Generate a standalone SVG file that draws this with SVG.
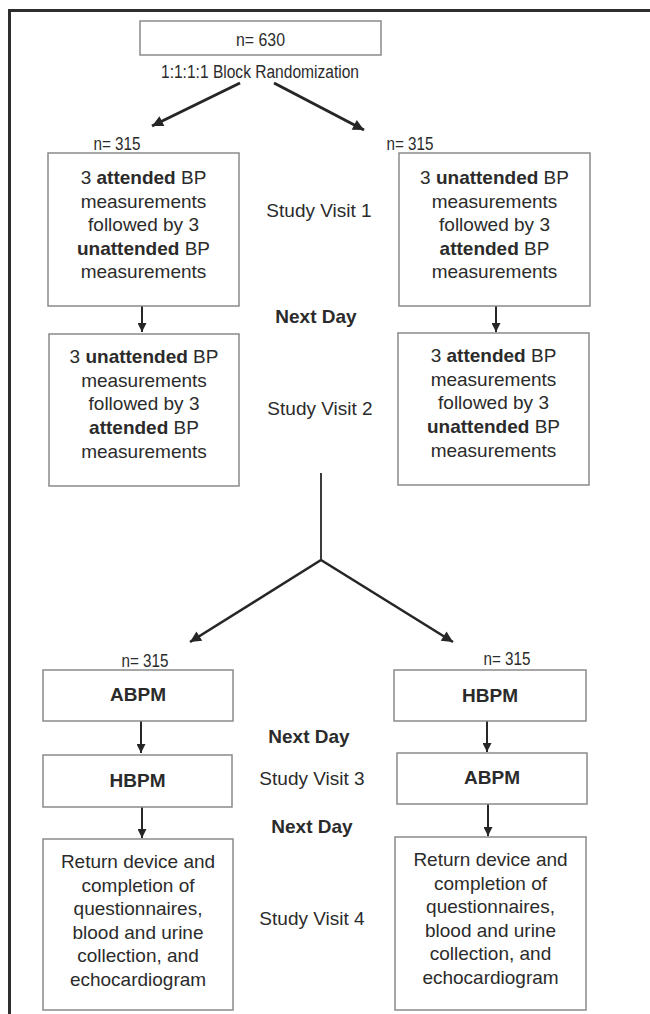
<svg xmlns="http://www.w3.org/2000/svg" width="650" height="1014" viewBox="0 0 650 1014">
<style>
text{font-family:"Liberation Sans",Arial,sans-serif;fill:#2b2b2b;text-anchor:middle}
.t{font-size:19px}
.s{font-size:18px}
.b{font-weight:bold}
.box{fill:#fff;stroke:#8a8a8a;stroke-width:1.5}
.ln{stroke:#262626;fill:none}
</style>
<defs>
<marker id="ah" markerUnits="userSpaceOnUse" viewBox="0 0 10 10" refX="10" refY="5" markerWidth="9" markerHeight="9" orient="auto"><path d="M0,0 L10,5 L0,10 z" fill="#262626"/></marker>
<marker id="ahl" markerUnits="userSpaceOnUse" viewBox="0 0 10 10" refX="10" refY="5" markerWidth="14" markerHeight="11" orient="auto"><path d="M0,0 L10,5 L0,10 z" fill="#262626"/></marker>
</defs>
<rect x="9.5" y="10.5" width="700" height="1100" fill="none" stroke="#2e2e2e" stroke-width="3"/>

<g id="connectors">
<line class="ln" x1="240" y1="83" x2="152" y2="126" stroke-width="3" marker-end="url(#ahl)"/>
<line class="ln" x1="274" y1="83" x2="364" y2="130" stroke-width="3" marker-end="url(#ahl)"/>
<line class="ln" x1="142" y1="306" x2="142" y2="332" stroke-width="2" marker-end="url(#ah)"/>
<line class="ln" x1="496" y1="306" x2="496" y2="332" stroke-width="2" marker-end="url(#ah)"/>
<line class="ln" x1="321" y1="473" x2="321" y2="560" stroke-width="1.8"/>
<line class="ln" x1="321" y1="560" x2="190" y2="642" stroke-width="2.6" marker-end="url(#ahl)"/>
<line class="ln" x1="321" y1="560" x2="453" y2="642" stroke-width="2.6" marker-end="url(#ahl)"/>
<line class="ln" x1="141" y1="721" x2="141" y2="753" stroke-width="2" marker-end="url(#ah)"/>
<line class="ln" x1="142" y1="807" x2="142" y2="838" stroke-width="2" marker-end="url(#ah)"/>
<line class="ln" x1="487" y1="721" x2="487" y2="752" stroke-width="2" marker-end="url(#ah)"/>
<line class="ln" x1="488" y1="804" x2="488" y2="836" stroke-width="2" marker-end="url(#ah)"/>
</g>

<g id="n630">
<rect class="box" x="140" y="21" width="241" height="34"/>
<text class="s" x="260.5" y="46" textLength="49" lengthAdjust="spacingAndGlyphs">n= 630</text>
</g>
<text class="s" x="260" y="78" textLength="198" lengthAdjust="spacingAndGlyphs">1:1:1:1 Block Randomization</text>

<text class="s" x="117" y="150" textLength="47" lengthAdjust="spacingAndGlyphs">n= 315</text>
<text class="s" x="410" y="150" textLength="47" lengthAdjust="spacingAndGlyphs">n= 315</text>

<g id="l1">
<rect class="box" x="48" y="153" width="191" height="153"/>
<text class="t" x="143.5" y="184">3 <tspan class="b">attended</tspan> BP</text>
<text class="t" x="143.5" y="207.5">measurements</text>
<text class="t" x="143.5" y="231">followed by 3</text>
<text class="t" x="143.5" y="254.5"><tspan class="b">unattended</tspan> BP</text>
<text class="t" x="143.5" y="278">measurements</text>
</g>
<g id="r1">
<rect class="box" x="399" y="153" width="191" height="153"/>
<text class="t" x="494.5" y="184">3 <tspan class="b">unattended</tspan> BP</text>
<text class="t" x="494.5" y="207.5">measurements</text>
<text class="t" x="494.5" y="231">followed by 3</text>
<text class="t" x="494.5" y="254.5"><tspan class="b">attended</tspan> BP</text>
<text class="t" x="494.5" y="278">measurements</text>
</g>
<g id="l2">
<rect class="box" x="49" y="334" width="190" height="152"/>
<text class="t" x="144" y="363">3 <tspan class="b">unattended</tspan> BP</text>
<text class="t" x="144" y="386.5">measurements</text>
<text class="t" x="144" y="410">followed by 3</text>
<text class="t" x="144" y="434"><tspan class="b">attended</tspan> BP</text>
<text class="t" x="144" y="458">measurements</text>
</g>
<g id="r2">
<rect class="box" x="398" y="333" width="191" height="152"/>
<text class="t" x="493.5" y="362">3 <tspan class="b">attended</tspan> BP</text>
<text class="t" x="493.5" y="385.5">measurements</text>
<text class="t" x="493.5" y="409">followed by 3</text>
<text class="t" x="493.5" y="433"><tspan class="b">unattended</tspan> BP</text>
<text class="t" x="493.5" y="457">measurements</text>
</g>

<text class="t" x="319" y="217">Study Visit 1</text>
<text class="t b" x="316" y="323">Next Day</text>
<text class="t" x="320" y="415">Study Visit 2</text>

<text class="s" x="145" y="667" textLength="47" lengthAdjust="spacingAndGlyphs">n= 315</text>
<text class="s" x="507" y="665" textLength="47" lengthAdjust="spacingAndGlyphs">n= 315</text>

<g id="l3">
<rect class="box" x="43" y="670" width="190" height="51"/>
<text class="t b" x="138" y="701">ABPM</text>
</g>
<g id="l4">
<rect class="box" x="43" y="755" width="189" height="52"/>
<text class="t b" x="137.5" y="787">HBPM</text>
</g>
<g id="l5">
<rect class="box" x="43" y="839" width="190" height="171"/>
<text class="t" x="138" y="868">Return device and</text>
<text class="t" x="138" y="891.5">completion of</text>
<text class="t" x="138" y="915">questionnaires,</text>
<text class="t" x="138" y="938.5">blood and urine</text>
<text class="t" x="138" y="962">collection, and</text>
<text class="t" x="138" y="985.5">echocardiogram</text>
</g>
<g id="r3">
<rect class="box" x="394" y="670" width="192" height="51"/>
<text class="t b" x="490" y="702">HBPM</text>
</g>
<g id="r4">
<rect class="box" x="397" y="753" width="190" height="51"/>
<text class="t b" x="492" y="784">ABPM</text>
</g>
<g id="r5">
<rect class="box" x="395" y="837" width="191" height="173"/>
<text class="t" x="490.5" y="866">Return device and</text>
<text class="t" x="490.5" y="889.5">completion of</text>
<text class="t" x="490.5" y="913">questionnaires,</text>
<text class="t" x="490.5" y="936.5">blood and urine</text>
<text class="t" x="490.5" y="960">collection, and</text>
<text class="t" x="490.5" y="983.5">echocardiogram</text>
</g>

<text class="t b" x="309" y="743">Next Day</text>
<text class="t" x="312" y="785">Study Visit 3</text>
<text class="t b" x="312" y="833">Next Day</text>
<text class="t" x="312" y="925">Study Visit 4</text>
</svg>
